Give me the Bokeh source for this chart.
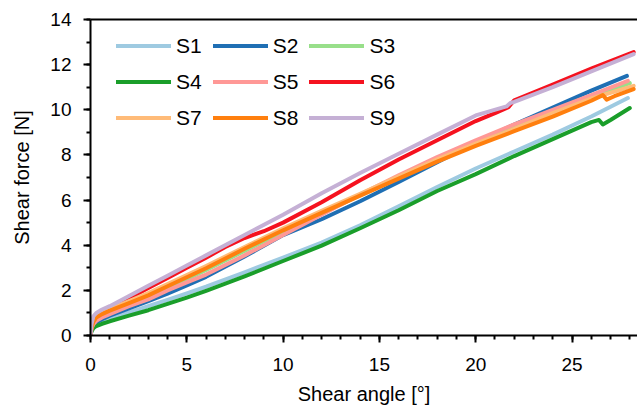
from bokeh.plotting import figure
from bokeh.models import LinearAxis, SingleIntervalTicker, FixedTicker, Legend, LegendItem, Range1d
from bokeh.embed import file_html
from bokeh.resources import INLINE

series_names = ["S1", "S2", "S3", "S4", "S5", "S6", "S7", "S8", "S9"]
series_colors = ["#9ecae1", "#1f6fb4", "#98df8a", "#1a9e2a", "#ff9896",
                 "#f5121f", "#ffbb78", "#ff7f0e", "#c5b0d5"]

s1_x = [0, 0.05, 0.15, 0.3, 0.6, 1, 2, 3, 4, 5, 6, 8, 10, 12, 14, 16, 18, 20, 22, 24, 26, 27.9]
s1_y = [0, 0.2, 0.36, 0.48, 0.62, 0.76, 1.02, 1.3, 1.58, 1.87, 2.16, 2.8, 3.45, 4.12, 4.88, 5.72, 6.58, 7.4, 8.15, 8.9, 9.7, 10.52]

s2_x = [0, 0.05, 0.15, 0.3, 0.6, 1, 2, 3, 4, 5, 6, 8, 10, 12, 14, 16, 18, 20, 22, 24, 26, 27.85]
s2_y = [0, 0.25, 0.45, 0.58, 0.72, 0.88, 1.2, 1.52, 1.86, 2.22, 2.6, 3.5, 4.45, 5.15, 5.95, 6.8, 7.68, 8.55, 9.35, 10.1, 10.85, 11.5]

s3_x = [0, 0.05, 0.15, 0.3, 0.6, 1, 2, 3, 4, 5, 6, 8, 10, 12, 14, 16, 18, 20, 22, 24, 26, 28]
s3_y = [0, 0.35, 0.6, 0.78, 0.92, 1.07, 1.42, 1.75, 2.12, 2.5, 2.9, 3.75, 4.6, 5.42, 6.22, 7.02, 7.8, 8.55, 9.25, 9.9, 10.55, 11.18]

s4_x = [0, 0.05, 0.15, 0.3, 0.6, 1, 2, 3, 4, 5, 6, 8, 10, 12, 14, 16, 18, 20, 22, 24, 26, 26.4, 26.6, 27, 28]
s4_y = [0, 0.18, 0.32, 0.42, 0.52, 0.63, 0.88, 1.12, 1.4, 1.68, 1.98, 2.62, 3.3, 3.98, 4.75, 5.55, 6.4, 7.15, 7.95, 8.7, 9.45, 9.55, 9.35, 9.55, 10.08]

s5_x = [0, 0.05, 0.15, 0.3, 0.6, 1, 2, 3, 4, 5, 6, 8, 10, 12, 14, 16, 18, 20, 22, 24, 26, 27.9]
s5_y = [0, 0.3, 0.5, 0.65, 0.8, 0.95, 1.3, 1.6, 2.0, 2.35, 2.7, 3.55, 4.45, 5.35, 6.25, 7.1, 7.9, 8.65, 9.35, 10.0, 10.65, 11.28]

s6_x = [0, 0.05, 0.15, 0.3, 0.6, 1, 2, 3, 4, 5, 6, 7, 8, 9, 10, 12, 14, 16, 18, 20, 21, 21.7, 22, 24, 26, 28.2]
s6_y = [0, 0.4, 0.75, 0.92, 1.05, 1.22, 1.65, 2.1, 2.55, 3.0, 3.45, 3.92, 4.32, 4.62, 5.0, 5.9, 6.88, 7.8, 8.65, 9.5, 9.85, 10.12, 10.42, 11.12, 11.82, 12.56]

s7_x = [0, 0.05, 0.15, 0.3, 0.6, 1, 2, 3, 4, 5, 6, 8, 10, 12, 14, 16, 18, 20, 22, 24, 26, 28.2]
s7_y = [0, 0.4, 0.7, 0.88, 1.02, 1.18, 1.52, 1.88, 2.28, 2.68, 3.08, 3.92, 4.75, 5.52, 6.28, 7.05, 7.8, 8.5, 9.15, 9.85, 10.5, 11.06]

s8_x = [0, 0.05, 0.15, 0.3, 0.6, 1, 2, 3, 4, 5, 6, 8, 10, 12, 14, 16, 18, 20, 22, 24, 26, 26.6, 26.8, 27.2, 28.2]
s8_y = [0, 0.35, 0.6, 0.8, 0.95, 1.1, 1.43, 1.78, 2.18, 2.58, 2.98, 3.84, 4.66, 5.43, 6.2, 6.95, 7.7, 8.4, 9.05, 9.7, 10.4, 10.65, 10.45, 10.6, 10.92]

s9_x = [0, 0.05, 0.15, 0.3, 0.6, 1, 2, 3, 4, 5, 6, 8, 10, 12, 14, 16, 18, 20, 21.6, 21.8, 22, 24, 26, 28.2]
s9_y = [0, 0.5, 0.85, 1.0, 1.15, 1.3, 1.75, 2.2, 2.65, 3.1, 3.55, 4.45, 5.35, 6.3, 7.2, 8.05, 8.9, 9.75, 10.15, 10.3, 10.35, 11.0, 11.7, 12.47]

xs = [s1_x, s2_x, s3_x, s4_x, s5_x, s6_x, s7_x, s8_x, s9_x]
ys = [s1_y, s2_y, s3_y, s4_y, s5_y, s6_y, s7_y, s8_y, s9_y]

x_ticks_interval = 5
y_ticks_interval = 2

FONT = "Liberation Sans"

p = figure(width=637, height=407, output_backend="svg", toolbar_location=None,
           x_range=Range1d(0, 28.4), y_range=Range1d(0, 14),
           x_axis_type=None, y_axis_type=None,
           min_border_left=90, min_border_right=0, min_border_top=19, min_border_bottom=72)
p.outline_line_color = None
p.grid.visible = False
p.background_fill_color = "white"
p.border_fill_color = "white"

xaxis = LinearAxis(ticker=SingleIntervalTicker(interval=x_ticks_interval, num_minor_ticks=5),
                   axis_label="Shear angle [°]")
yaxis = LinearAxis(ticker=SingleIntervalTicker(interval=y_ticks_interval, num_minor_ticks=2),
                   axis_label="Shear force [N]")
for ax in (xaxis, yaxis):
    ax.axis_line_width = 2
    ax.axis_line_color = "black"
    ax.major_tick_line_width = 2
    ax.minor_tick_line_width = 2
    ax.major_tick_out = 7
    ax.major_tick_in = 0
    ax.minor_tick_out = 4
    ax.minor_tick_in = 0
    ax.major_label_text_font = FONT
    ax.major_label_text_font_size = "19px"
    ax.major_label_text_color = "black"
    ax.axis_label_text_font = FONT
    ax.axis_label_text_font_size = "20px"
    ax.axis_label_text_font_style = "normal"
    ax.axis_label_text_color = "black"
xaxis.major_label_standoff = 15
xaxis.axis_label_standoff = 9
yaxis.major_label_standoff = 12
yaxis.axis_label_standoff = 14
p.add_layout(xaxis, "below")
p.add_layout(yaxis, "left")

top = LinearAxis(ticker=FixedTicker(ticks=[]))
top.axis_line_width = 2
top.axis_line_color = "black"
top.major_tick_line_color = None
top.minor_tick_line_color = None
p.add_layout(top, "above")

items = []
for name, color, x, y in zip(series_names, series_colors, xs, ys):
    r = p.line(x, y, line_color=color, line_width=4, line_join="round", line_cap="round")
    items.append(LegendItem(label=name, renderers=[r]))

legend = Legend(items=items, orientation="horizontal", ncols=3,
                location=(26, 205), glyph_width=55, glyph_height=25, label_height=25,
                label_standoff=5, spacing=11, padding=0, margin=0,
                border_line_color=None, background_fill_alpha=0,
                label_text_font=FONT, label_text_font_size="21px", label_text_color="black")
p.add_layout(legend)

open("out.html", "w").write(file_html(p, INLINE))
